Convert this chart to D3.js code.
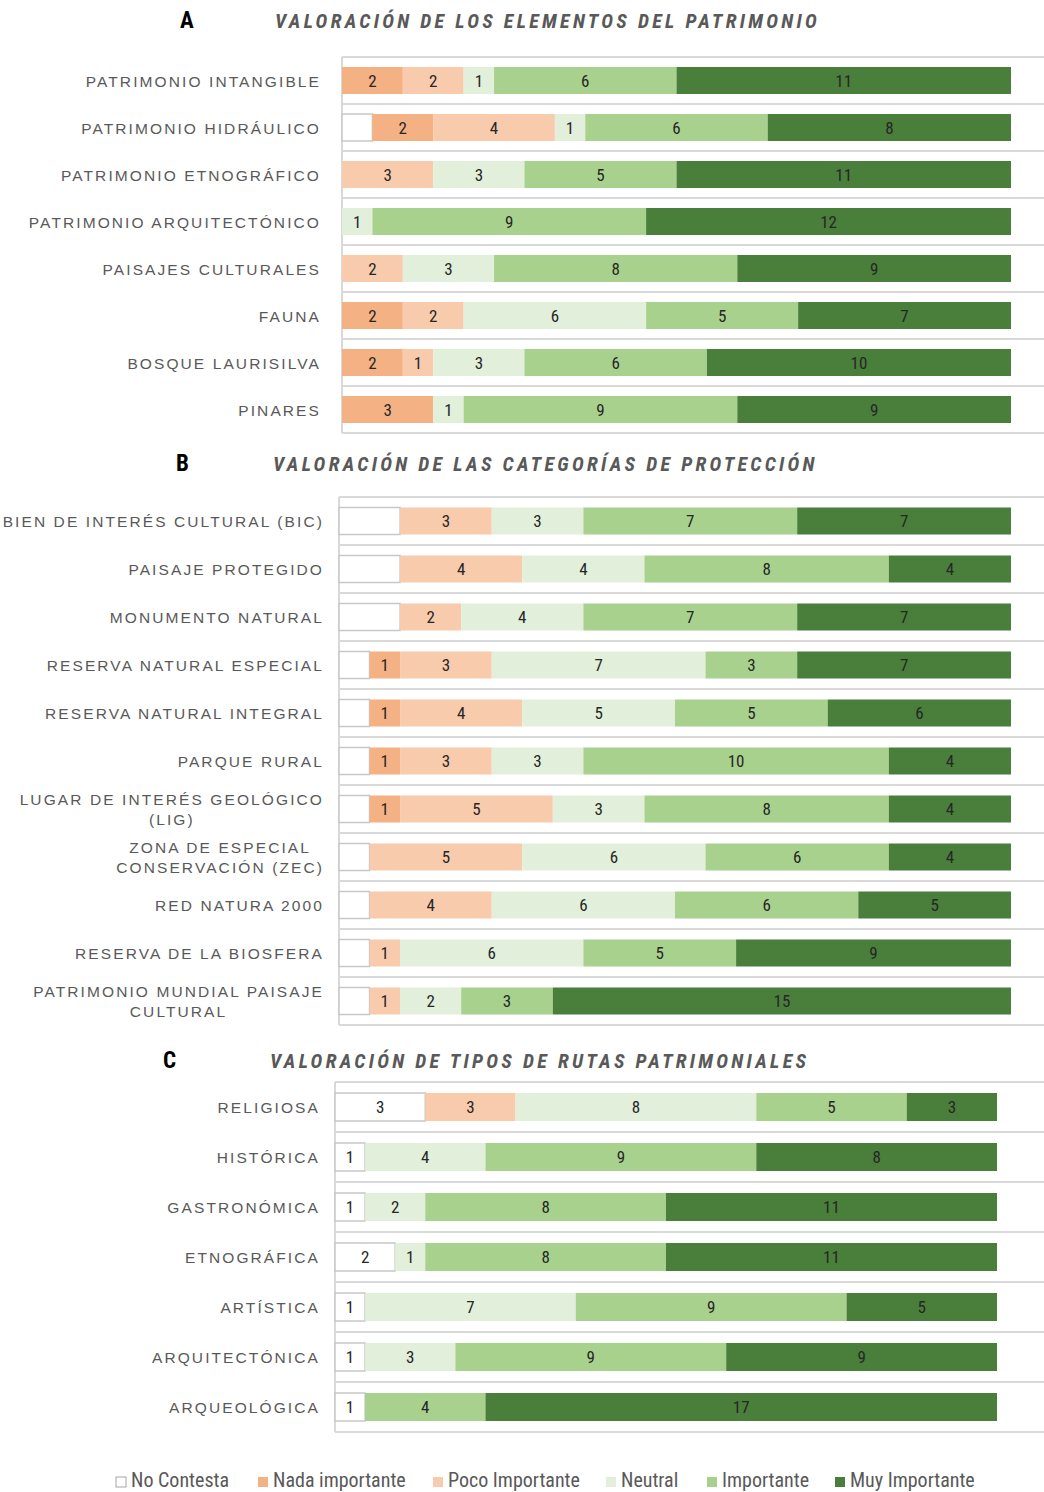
<!DOCTYPE html>
<html>
<head>
<meta charset="utf-8">
<script src="https://cdn.jsdelivr.net/npm/d3@7"></script>
<style>
  body { margin: 0; background: #fff; }
  svg { display: block; }
</style>
</head>
<body>
<svg id="chart" width="1044" height="1492"></svg>
<script>
const seriesNames = ["No Contesta", "Nada importante", "Poco Importante", "Neutral", "Importante", "Muy Importante"];
const seriesColors = ["#ffffff", "#f4b183", "#f8cbad", "#e2efda", "#a9d18e", "#4a7e3b"];

// A - elementos del patrimonio
const catsA = ["PATRIMONIO INTANGIBLE", "PATRIMONIO HIDRÁULICO", "PATRIMONIO ETNOGRÁFICO", "PATRIMONIO ARQUITECTÓNICO",
  "PAISAJES CULTURALES", "FAUNA", "BOSQUE LAURISILVA", "PINARES"];
const noContestaA = [0, 1, 0, 0, 0, 0, 0, 0];
const nadaA       = [2, 2, 0, 0, 0, 2, 2, 3];
const pocoA       = [2, 4, 3, 0, 2, 2, 1, 0];
const neutralA    = [1, 1, 3, 1, 3, 6, 3, 1];
const importanteA = [6, 6, 5, 9, 8, 5, 6, 9];
const muyA        = [11, 8, 11, 12, 9, 7, 10, 9];

// B - categorías de protección
const catsB = ["BIEN DE INTERÉS CULTURAL (BIC)", "PAISAJE PROTEGIDO", "MONUMENTO NATURAL", "RESERVA NATURAL ESPECIAL",
  "RESERVA NATURAL INTEGRAL", "PARQUE RURAL", "LUGAR DE INTERÉS GEOLÓGICO\n(LIG)", "ZONA DE ESPECIAL\nCONSERVACIÓN (ZEC)",
  "RED NATURA 2000", "RESERVA DE LA BIOSFERA", "PATRIMONIO MUNDIAL PAISAJE\nCULTURAL"];
const noContestaB = [2, 2, 2, 1, 1, 1, 1, 1, 1, 1, 1];
const nadaB       = [0, 0, 0, 1, 1, 1, 1, 0, 0, 0, 0];
const pocoB       = [3, 4, 2, 3, 4, 3, 5, 5, 4, 1, 1];
const neutralB    = [3, 4, 4, 7, 5, 3, 3, 6, 6, 6, 2];
const importanteB = [7, 8, 7, 3, 5, 10, 8, 6, 6, 5, 3];
const muyB        = [7, 4, 7, 7, 6, 4, 4, 4, 5, 9, 15];

// C - tipos de rutas patrimoniales
const catsC = ["RELIGIOSA", "HISTÓRICA", "GASTRONÓMICA", "ETNOGRÁFICA", "ARTÍSTICA", "ARQUITECTÓNICA", "ARQUEOLÓGICA"];
const noContestaC = [3, 1, 1, 2, 1, 1, 1];
const nadaC       = [0, 0, 0, 0, 0, 0, 0];
const pocoC       = [3, 0, 0, 0, 0, 0, 0];
const neutralC    = [8, 4, 2, 1, 7, 3, 0];
const importanteC = [5, 9, 8, 8, 9, 9, 4];
const muyC        = [3, 8, 11, 11, 5, 9, 17];

const narrow = "'Liberation Sans Narrow', 'Arial Narrow', 'Roboto Condensed', sans-serif";
const wide = "'Liberation Sans', Arial, sans-serif";
const grey = "#595959";

const panels = [
  { letter: "A", title: "VALORACIÓN DE LOS ELEMENTOS DEL PATRIMONIO", letterX: 180, titleX: 275, titleY: 28,
    cats: catsA, series: [noContestaA, nadaA, pocoA, neutralA, importanteA, muyA],
    left: 342, right: 1011, top: 57, band: 47, barH: 27, labelRight: 321, ncLabels: false },
  { letter: "B", title: "VALORACIÓN DE LAS CATEGORÍAS DE PROTECCIÓN", letterX: 176, titleX: 273, titleY: 471,
    cats: catsB, series: [noContestaB, nadaB, pocoB, neutralB, importanteB, muyB],
    left: 339, right: 1011, top: 497, band: 48, barH: 27, labelRight: 324, ncLabels: false },
  { letter: "C", title: "VALORACIÓN DE TIPOS DE RUTAS PATRIMONIALES", letterX: 163, titleX: 270, titleY: 1068,
    cats: catsC, series: [noContestaC, nadaC, pocoC, neutralC, importanteC, muyC],
    left: 335, right: 997, top: 1082, band: 50, barH: 28, labelRight: 320, ncLabels: true }
];

const svg = d3.select("#chart");

function drawPanel(p) {
  const g = svg.append("g");
  const total = d3.sum(p.series, s => s[0]);
  const x = d3.scaleLinear().domain([0, total]).range([p.left, p.right]);
  const y = d3.scaleBand()
    .domain(p.cats)
    .range([p.top, p.top + p.band * p.cats.length])
    .paddingInner(0).paddingOuter(0);

  // letter + title
  g.append("text")
    .attr("x", p.letterX).attr("y", p.titleY)
    .style("font-family", narrow).style("font-weight", "bold")
    .style("font-size", "23px").style("fill", "#000")
    .text(p.letter);
  g.append("text")
    .attr("x", p.titleX).attr("y", p.titleY)
    .style("font-family", narrow).style("font-weight", "bold").style("font-style", "italic")
    .style("font-size", "20px").style("letter-spacing", "3.3px").style("fill", grey)
    .text(p.title);

  // gridlines between categories
  const edges = p.cats.map(c => y(c)).concat([y.range()[1]]);
  g.selectAll("line.grid").data(edges).join("line")
    .attr("x1", p.left).attr("x2", 1044)
    .attr("y1", d => d).attr("y2", d => d)
    .style("stroke", "#d9d9d9").style("stroke-width", 2);
  g.append("line")
    .attr("x1", p.left).attr("x2", p.left)
    .attr("y1", p.top).attr("y2", y.range()[1])
    .style("stroke", "#d9d9d9").style("stroke-width", 2);

  // stacked segments
  const rows = p.cats.map((c, i) => {
    let acc = 0;
    return p.series.map((s, k) => {
      const seg = { cat: c, k: k, v: s[i], x0: acc, x1: acc + s[i] };
      acc += s[i];
      return seg;
    }).filter(d => d.v > 0);
  }).flat();

  const off = (y.bandwidth() - p.barH) / 2;
  g.selectAll("rect.seg").data(rows).join("rect")
    .attr("x", d => x(d.x0))
    .attr("y", d => y(d.cat) + off)
    .attr("width", d => x(d.x1) - x(d.x0))
    .attr("height", p.barH)
    .style("fill", d => seriesColors[d.k])
    .style("stroke", d => d.k === 0 ? "#c8c8c8" : "none")
    .style("stroke-width", 1.5);

  g.selectAll("text.val").data(rows.filter(d => d.k > 0 || p.ncLabels)).join("text")
    .attr("x", d => (x(d.x0) + x(d.x1)) / 2)
    .attr("y", d => y(d.cat) + y.bandwidth() / 2 + 6)
    .attr("text-anchor", "middle")
    .style("font-family", narrow).style("font-size", "17px").style("fill", "#262626")
    .text(d => d.v);

  // category labels, wrapped lines centred on the widest line
  p.cats.forEach(c => {
    const lines = c.split("\n");
    const t = g.append("text")
      .style("font-family", wide).style("font-size", "15.5px")
      .style("letter-spacing", "2.1px").style("fill", grey);
    const cy = y(c) + y.bandwidth() / 2;
    const lh = 20;
    lines.forEach((ln, j) => {
      t.append("tspan")
        .attr("y", cy + 6 + (j - (lines.length - 1) / 2) * lh)
        .text(ln);
    });
    const widths = [];
    t.selectAll("tspan").each(function() { widths.push(this.getComputedTextLength()); });
    const maxW = d3.max(widths);
    if (lines.length === 1) {
      t.attr("text-anchor", "end").selectAll("tspan").attr("x", p.labelRight);
    } else {
      t.attr("text-anchor", "middle").selectAll("tspan").attr("x", p.labelRight - maxW / 2);
    }
  });
}

panels.forEach(drawPanel);

// legend
const legendX = [116, 258, 433, 606, 707, 835];
const legend = svg.append("g");
seriesNames.forEach((name, k) => {
  legend.append("rect")
    .attr("x", legendX[k]).attr("y", 1477)
    .attr("width", 10).attr("height", 10)
    .style("fill", seriesColors[k])
    .style("stroke", k === 0 ? "#a6a6a6" : "none");
  legend.append("text")
    .attr("x", legendX[k] + 15).attr("y", 1487)
    .style("font-family", narrow).style("font-size", "20px").style("fill", grey)
    .text(name);
});
</script>
</body>
</html>
